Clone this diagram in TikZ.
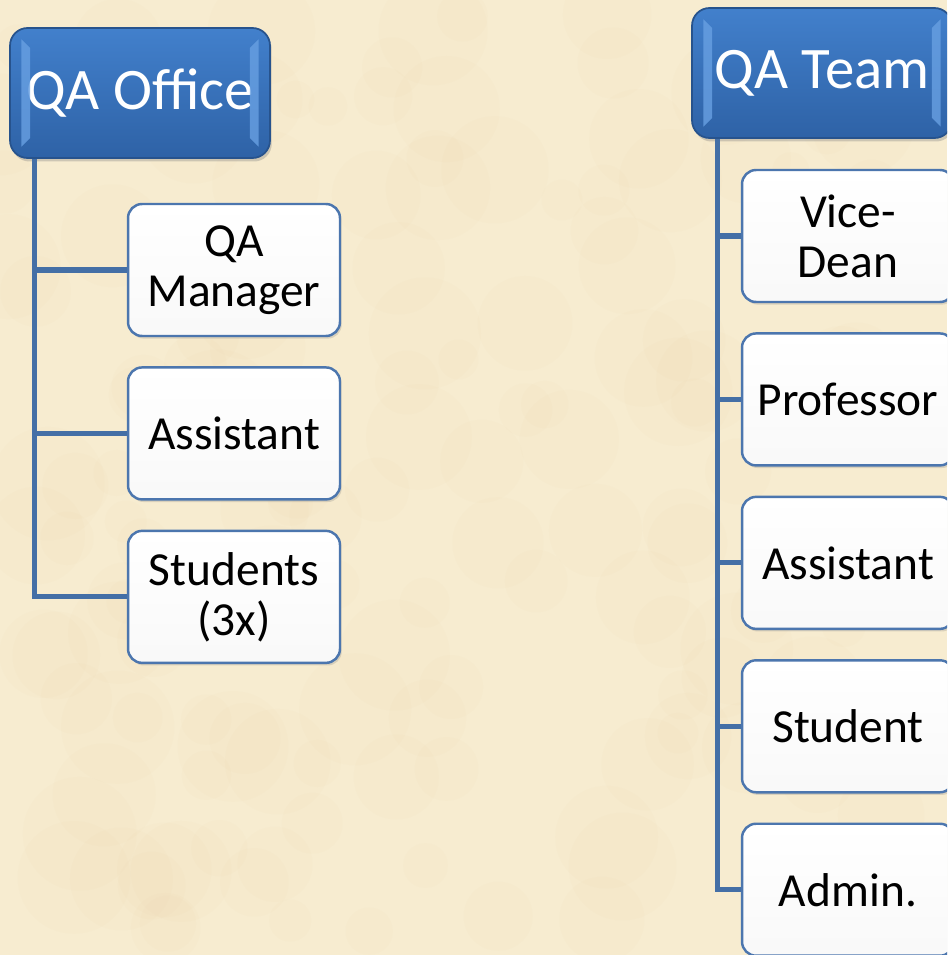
\documentclass[tikz,border=0pt]{standalone}
\usepackage{fontspec}
\setmainfont{Carlito}
\usetikzlibrary{positioning, shadows}
\definecolor{parchment}{RGB}{247,236,208}
\definecolor{parchdark}{RGB}{230,206,158}
\definecolor{linkblue}{RGB}{68,111,166}
\definecolor{headblue}{RGB}{66,128,204}
\definecolor{headdark}{RGB}{46,98,166}
\definecolor{bevel}{RGB}{104,160,226}
\definecolor{boxedge}{RGB}{76,118,174}
\tikzset{
    head/.style={rounded corners=10pt, draw=headdark!85!black, line width=1pt,
        top color=headblue, bottom color=headdark, text=white,
        font=\fontsize{33.5}{37}\selectfont,
        minimum width=5.2cm, minimum height=2.6cm, inner sep=0pt,
        drop shadow={opacity=0.35, shadow xshift=1pt, shadow yshift=-2pt}}, % blue title box
    member/.style={rounded corners=8pt, draw=boxedge, line width=1.4pt,
        top color=white, bottom color=gray!5, text=black, align=center,
        font=\fontsize{27}{28.5}\selectfont,
        minimum width=4.24cm, minimum height=2.64cm, inner sep=0pt,
        drop shadow={opacity=0.25, shadow xshift=1pt, shadow yshift=-1.5pt}}, % white member box
    link/.style={draw=linkblue, line width=3pt},
}

\begin{document}
\begin{tikzpicture}[x=0.02cm, y=-0.02cm]
    % parchment background
    \clip (0,0) rectangle (947,955);
    \fill[parchment] (0,0) rectangle (947,955);
    \pgfmathsetseed{7}
    \foreach \k in {1,...,160}{
        \pgfmathsetmacro{\px}{rnd*947}
        \pgfmathsetmacro{\py}{rnd*955}
        \pgfmathsetmacro{\pr}{18+rnd*40}
        \fill[parchdark, opacity=0.05] (\px,\py) circle (\pr);
    }

    % title boxes
    \node[head] (office) at (140,93) {QA Office};
    \node[head] (team) at (822,73) {QA Team};
    \foreach \h in {office, team}{
        \fill[bevel, opacity=0.8] ([xshift=7pt,yshift=-7pt]\h.north west) -- ([xshift=12pt,yshift=-12pt]\h.north west)
            -- ([xshift=12pt,yshift=12pt]\h.south west) -- ([xshift=7pt,yshift=7pt]\h.south west) -- cycle;
        \fill[bevel, opacity=0.8] ([xshift=-7pt,yshift=-7pt]\h.north east) -- ([xshift=-12pt,yshift=-12pt]\h.north east)
            -- ([xshift=-12pt,yshift=12pt]\h.south east) -- ([xshift=-7pt,yshift=7pt]\h.south east) -- cycle;
    }

    % QA Office members
    \node[member] (mgr) at (234,270) {QA\\Manager};
    \node[member, below=0.58cm of mgr] (asst) {Assistant};
    \node[member, below=0.58cm of asst] (stud) {Students\\(3x)};

    % QA Team members
    \node[member] (vice) at (848,236) {Vice-\\Dean};
    \node[member, below=0.58cm of vice] (prof) {Professor};
    \node[member, below=0.58cm of prof] (tasst) {Assistant};
    \node[member, below=0.58cm of tasst] (tstud) {Student};
    \node[member, below=0.58cm of tstud] (admin) {Admin.};

    % connectors
    \foreach \m in {mgr, asst, stud}
        \draw[link] ([xshift=0.5cm]office.south west) |- (\m.west);
    \foreach \m in {vice, prof, tasst, tstud, admin}
        \draw[link] ([xshift=0.52cm]team.south west) |- (\m.west);
\end{tikzpicture}
\end{document}
